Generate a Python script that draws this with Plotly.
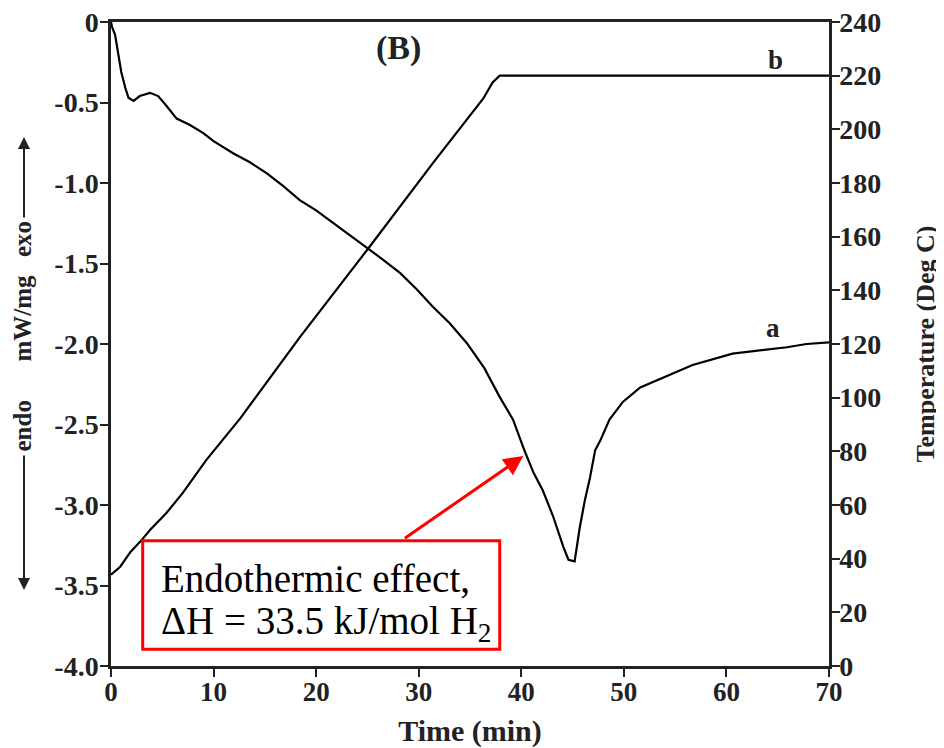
import plotly.graph_objects as go

# ---- data ----
time_a = [0, 0.1, 0.4, 0.7, 1.0, 1.4, 1.7, 2.2, 2.8, 3.8, 4.6, 5.4, 6.4, 7.7, 9.0,
          10.0, 11.9, 13.5, 15.2, 16.8, 18.4, 20.0, 21.7, 23.4, 25.1, 26.6, 28.2,
          29.8, 31.4, 33.0, 34.7, 36.4, 37.9, 39.2, 40.3, 41.2, 42.1, 43.1, 44.1,
          44.6, 45.2, 45.7, 46.2, 46.7, 47.2, 47.7, 48.6, 49.9, 51.6, 54.2, 56.7,
          60.6, 63.3, 65.9, 67.8, 70.0]
heat_flow_a = [0, -0.03, -0.08, -0.20, -0.31, -0.41, -0.47, -0.49, -0.46, -0.44,
               -0.46, -0.52, -0.60, -0.64, -0.69, -0.74, -0.815, -0.87, -0.94, -1.02,
               -1.106, -1.17, -1.25, -1.33, -1.405, -1.48, -1.56, -1.66, -1.77, -1.87,
               -1.995, -2.15, -2.33, -2.47, -2.66, -2.80, -2.91, -3.07, -3.26, -3.34,
               -3.35, -3.14, -2.97, -2.83, -2.66, -2.60, -2.47, -2.36, -2.27, -2.20,
               -2.13, -2.06, -2.04, -2.02, -2.00, -1.99]

time_b = [0, 0.9, 1.9, 3.0, 3.8, 5.4, 7.0, 9.3, 12.6, 18.4, 25.1, 31.4, 36.3, 37.2,
          37.9, 70.0]
temperature_b = [34, 37, 42.5, 47, 50.7, 57, 64.5, 76.8, 92.3, 122.5, 155.7, 187.5,
                 211.5, 217.5, 220, 220]

x_ticks = [0, 10, 20, 30, 40, 50, 60, 70]
left_ticks = [0, -0.5, -1.0, -1.5, -2.0, -2.5, -3.0, -3.5, -4.0]
left_tick_text = ["0", "-0.5", "-1.0", "-1.5", "-2.0", "-2.5", "-3.0", "-3.5", "-4.0"]
right_ticks = [0, 20, 40, 60, 80, 100, 120, 140, 160, 180, 200, 220, 240]

SERIF = "Liberation Serif, Times New Roman, serif"
INK = "#222"
tickfont = dict(family=SERIF, size=28, color=INK, weight="bold")
xtickfont = dict(family=SERIF, size=27, color=INK, weight="bold")

fig = go.Figure()
fig.add_trace(go.Scatter(x=time_a, y=heat_flow_a, mode="lines",
                         line=dict(color="black", width=2.2), showlegend=False))
fig.add_trace(go.Scatter(x=time_b, y=temperature_b, mode="lines", yaxis="y2",
                         line=dict(color="black", width=2.2), showlegend=False))

# page body has an 8px default margin, so the figure is 8px smaller each way
fig.update_layout(
    width=936, height=740,
    margin=dict(l=103, r=115, t=14, b=82),
    plot_bgcolor="white", paper_bgcolor="white",
    xaxis=dict(range=[0, 70], tickvals=x_ticks, showgrid=False, zeroline=False,
               showline=True, linecolor=INK, linewidth=2.5, mirror=True,
               ticks="outside", ticklen=8, tickwidth=2, tickcolor=INK,
               tickfont=xtickfont, automargin=False, ticklabelstandoff=-8,
               ticklabeloverflow="allow",
               title=dict(text="Time (min)", standoff=16,
                          font=dict(family=SERIF, size=30, color=INK, weight="bold"))),
    yaxis=dict(range=[-4.0, 0], tickvals=left_ticks, ticktext=left_tick_text,
               showgrid=False, zeroline=False, showline=True, linecolor=INK,
               linewidth=2.5, ticks="outside", ticklen=8, tickwidth=2, tickcolor=INK,
               tickfont=tickfont, automargin=False, ticklabelstandoff=-4,
               ticklabeloverflow="allow"),
    yaxis2=dict(range=[0, 240], tickvals=right_ticks, overlaying="y", side="right",
                showgrid=False, zeroline=False, showline=True, linecolor=INK,
                linewidth=2.5, ticks="outside", ticklen=8, tickwidth=2, tickcolor=INK,
                tickfont=tickfont, automargin=False, ticklabelstandoff=-6,
                ticklabeloverflow="allow",
                title=dict(text="Temperature (Deg C)", standoff=36,
                           font=dict(family=SERIF, size=26, color=INK, weight="bold"))),
)

def ypap(py):
    return (666 - py) / 644

def xpap(px):
    return (px - 111) / 718

title_font = dict(family=SERIF, size=25, color=INK, weight="bold")
ann = []
# left axis composite title
for txt, top, bot in [("exo", 222, 256), ("mW/mg", 280, 357), ("endo", 403, 450)]:
    ann.append(dict(text=txt, xref="paper", yref="paper", x=xpap(22), y=ypap((top + bot) / 2),
                    textangle=-90, showarrow=False, font=title_font,
                    xanchor="center", yanchor="middle"))
# arrows
ann.append(dict(text="", xref="paper", yref="paper", x=xpap(24), y=ypap(137),
                ax=0, ay=82, showarrow=True, arrowhead=2, arrowsize=1.2,
                arrowwidth=2, arrowcolor=INK))
ann.append(dict(text="", xref="paper", yref="paper", x=xpap(24), y=ypap(590),
                ax=0, ay=-136, showarrow=True, arrowhead=2, arrowsize=1.2,
                arrowwidth=2, arrowcolor=INK))
# panel label and curve labels
ann.append(dict(text="(B)", x=28.0, y=-0.16, xref="x", yref="y", showarrow=False,
                font=dict(family=SERIF, size=34, color=INK, weight="bold")))
ann.append(dict(text="a", x=64.5, y=-1.90, xref="x", yref="y", showarrow=False,
                font=dict(family=SERIF, size=27, color=INK, weight="bold")))
ann.append(dict(text="b", x=64.8, y=226, xref="x", yref="y2", showarrow=False,
                font=dict(family=SERIF, size=27, color=INK, weight="bold")))
# callout text
box_font = dict(family=SERIF, size=39, color="black")
ann.append(dict(text="Endothermic effect,", x=4.7, y=-3.455, xref="x", yref="y",
                showarrow=False, xanchor="left", yanchor="middle", font=box_font))
ann.append(dict(text="ΔH = 33.5 kJ/mol H<sub>2</sub>", x=4.7, y=-3.735, xref="x", yref="y",
                showarrow=False, xanchor="left", yanchor="middle", font=box_font))
# red arrow
ann.append(dict(text="", x=40.2, y=-2.696, xref="x", yref="y",
                ax=28.5, ay=-3.213, axref="x", ayref="y",
                showarrow=True, arrowhead=2, arrowsize=1.3, arrowwidth=3, arrowcolor="red"))
fig.update_layout(annotations=ann)

fig.add_shape(type="rect", xref="x", yref="y", x0=3.09, x1=37.9, y0=-3.896, y1=-3.222,
              line=dict(color="red", width=3), fillcolor="white", layer="above")

fig.write_html("out.html")
